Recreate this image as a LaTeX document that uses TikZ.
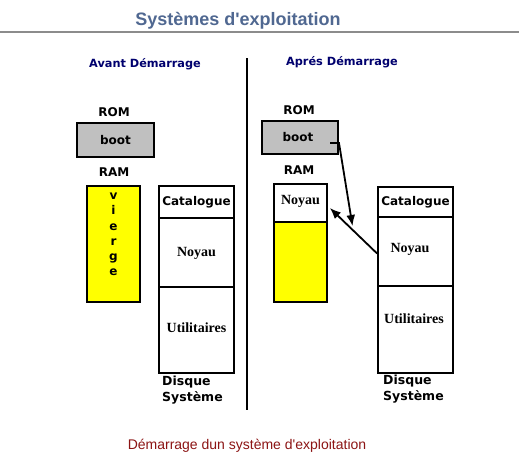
\documentclass[tikz,border=0pt]{standalone}
\usepackage{fontspec}
\usetikzlibrary{arrows.meta}
\newfontfamily\lsans{Liberation Sans}
\newfontfamily\dejav{DejaVu Sans}
\newfontfamily\lserif{Liberation Serif}
\definecolor{titleblue}{RGB}{80,104,145}
\definecolor{headnavy}{RGB}{0,0,110}
\definecolor{capred}{RGB}{140,20,20}
\definecolor{romgray}{RGB}{192,192,192}
\definecolor{ramyellow}{RGB}{255,255,0}
\begin{document}
\begin{tikzpicture}[x=1pt,y=-1pt,
  box/.style={draw=black, line width=1.8pt, rectangle, inner sep=0pt},
  lbl/.style={font=\dejav\bfseries\fontsize{12}{14}\selectfont, inner sep=0pt},
  heading/.style={font=\dejav\bfseries\fontsize{11.3}{13}\selectfont, text=headnavy, inner sep=0pt},
  serifl/.style={font=\lserif\bfseries\fontsize{14}{16}\selectfont, inner sep=0pt},
  disklbl/.style={font=\dejav\bfseries\fontsize{12.5}{16}\selectfont, inner sep=0pt, align=left, anchor=north west},
  arr/.style={line width=1.8pt, -{Latex[length=11pt,width=9pt]}}
]
\useasboundingbox[fill=white] (0,0) rectangle (519,467);

% title and rule
\node[font=\lsans\bfseries\fontsize{18}{20}\selectfont, text=titleblue, inner sep=0pt] (title) at (238,21) {Systèmes d'exploitation};
\coordinate (hl) at (0,32);
\coordinate (hr) at (519,32);
\draw[line width=1.2pt, color=black!45] (hl) -- (hr);

% headings
\node[heading] (hav) at (145,64) {Avant Démarrage};
\node[heading] (hap) at (342,62) {Aprés Démarrage};

% separator
\coordinate (vt) at (247,58);
\coordinate (vb) at (247,410);
\draw[line width=1.8pt] (vt) -- (vb);

% ---- left: before boot ----
\node[lbl] (romL) at (114,112) {ROM};
\node[box, fill=romgray, minimum width=77pt, minimum height=34pt, lbl] (bootL) at (115.5,140) {boot};
\node[lbl] (ramL) at (114,172) {RAM};
\node[box, fill=ramyellow, minimum width=53pt, minimum height=116pt] (ramLbox) at (113.5,244) {};
\node[lbl, align=center, anchor=north, font=\dejav\bfseries\fontsize{12}{15.2}\selectfont] (vierge) at (113.5,193) {v\\i\\e\\r\\g\\e};

\node[box, minimum width=75pt, minimum height=32pt, lbl] (dLcat) at (196.5,202) {Catalogue};
\node[box, minimum width=75pt, minimum height=69pt] (dLnoy) at (196.5,252.5) {};
\node[box, minimum width=75pt, minimum height=86pt] (dLutil) at (196.5,330) {};
\node[serifl] (tLnoy) at (196.5,253) {Noyau};
\node[serifl] (tLutil) at (196.5,328) {Utilitaires};
\node[disklbl] (dLname) at (162,376) {Disque\\Système};

% ---- right: after boot ----
\node[lbl] (romR) at (299,110) {ROM};
\node[box, fill=romgray, minimum width=76pt, minimum height=33pt, lbl] (bootR) at (300,137.5) {};
\node[lbl] (bootRt) at (298,137) {boot};
\node[lbl] (ramR) at (299,170) {RAM};
\node[box, minimum width=53pt, minimum height=38pt] (ramRtop) at (300.5,203) {};
\node[box, fill=ramyellow, minimum width=53pt, minimum height=80pt] (ramRbot) at (300.5,262) {};
\node[serifl] (tRram) at (300.5,201) {Noyau};

\node[box, minimum width=75pt, minimum height=30pt, lbl] (dRcat) at (415.5,202) {Catalogue};
\node[box, minimum width=75pt, minimum height=69pt] (dRnoy) at (415.5,251.5) {};
\node[box, minimum width=75pt, minimum height=87pt] (dRutil) at (415.5,329.5) {};
\node[serifl] (tRnoy) at (410,249) {Noyau};
\node[serifl] (tRutil) at (414,319) {Utilitaires};
\node[disklbl] (dRname) at (383,375) {Disque\\Système};

% arrows
\coordinate (a1s) at (330,143);
\coordinate (a1m) at (339,143);
\coordinate (a1e) at (352.5,226);
\draw[arr] (a1s) -- (a1m) -- (a1e);
\draw[arr] ([yshift=-2pt]dRnoy.west) -- ([xshift=2pt,yshift=-5pt]ramRtop.east);

% caption
\node[font=\lsans\fontsize{14}{16}\selectfont, text=capred, inner sep=0pt] (cap) at (247,446) {Démarrage dun système d'exploitation};
\end{tikzpicture}
\end{document}
